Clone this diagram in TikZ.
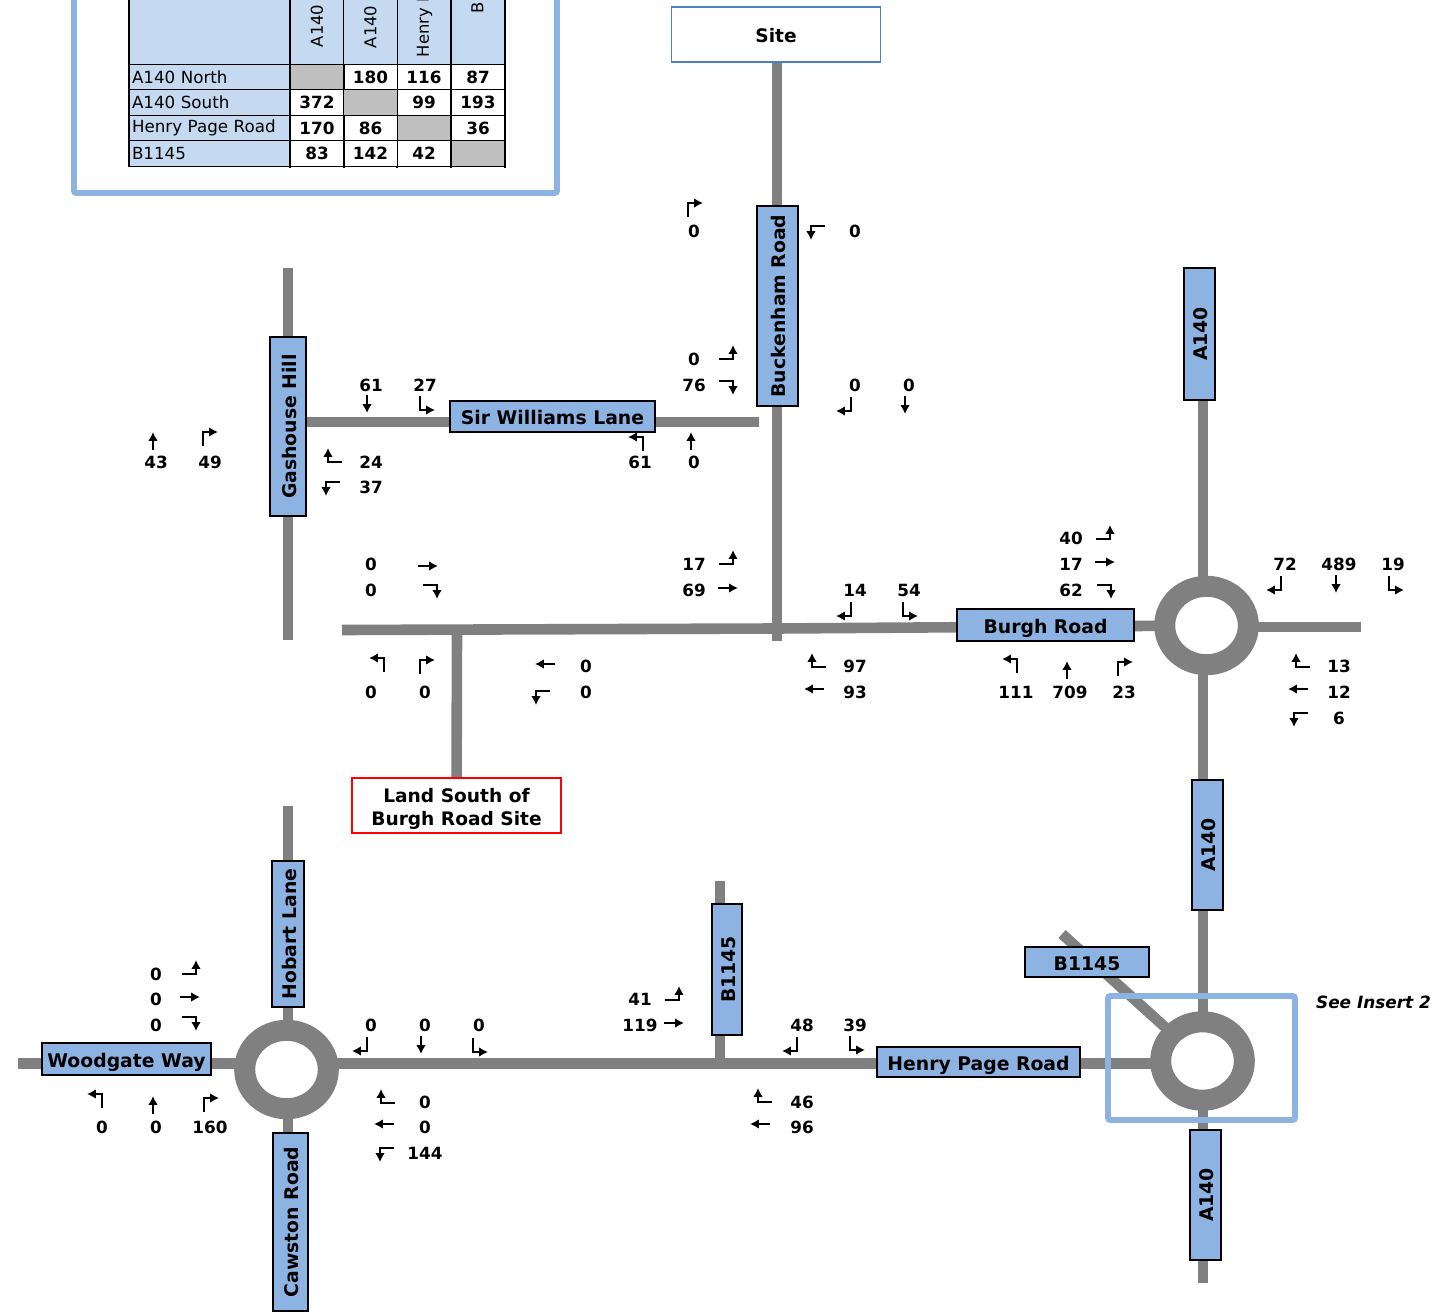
\documentclass[tikz,border=0pt]{standalone}
\usepackage{fontspec}
\setmainfont{DejaVu Sans}
\usepackage{xcolor}
\usetikzlibrary{arrows.meta,backgrounds,shapes.geometric}
\definecolor{tablight}{HTML}{C5D9F1}
\definecolor{roadblue}{HTML}{8DB3E2}
\definecolor{roadgray}{HTML}{808080}
\definecolor{cellgray}{HTML}{BFBFBF}
\definecolor{siteblue}{HTML}{4F81BD}
\tikzset{
  road/.style={draw=roadgray,line width=5.3pt},
  rbt/.style={ellipse,draw=roadgray,fill=white,line width=10.5pt,minimum width=41.8pt,minimum height=39.2pt,inner sep=0pt,outer sep=0pt},
  hlabel/.style 2 args={draw=black,fill=roadblue,line width=0.75pt,font=\bfseries\fontsize{9.4}{10}\selectfont,text height=8pt,text depth=0pt,inner sep=0pt,outer sep=0pt,minimum width=#1*0.5pt,minimum height=#2*0.5pt},
  vlabel/.style 2 args={hlabel={#1}{#2},rotate=90},
  sitebox/.style={draw=#1,fill=white,line width=0.7pt,align=center,font=\bfseries\fontsize{9.3}{11.5}\selectfont,inner sep=0pt,outer sep=0pt,minimum width=104.5pt,minimum height=27.5pt},
  count/.style={font=\bfseries\fontsize{8.4}{10}\selectfont,inner sep=0pt},
  frame/.style={draw=roadblue,line width=2.8pt,rounded corners=1pt},
  arr/.style={line width=0.95pt,-{Latex[length=4.4pt,width=4.8pt]}},
  tline/.style={draw=black,line width=0.7pt},
  cell/.style={draw=black,line width=0.7pt,inner sep=0pt,outer sep=0pt,minimum width=26.8pt,minimum height=12.75pt,font=\bfseries\fontsize{8.4}{10}\selectfont},
  grey/.style={cell,fill=cellgray},
  rowname/.style={cell,fill=tablight,minimum width=80.5pt,text width=77.5pt,align=left,font=\fontsize{8.35}{10}\selectfont},
  colname/.style={font=\fontsize{8.2}{10}\selectfont,inner sep=0pt,rotate=90,anchor=west},
  pics/ur/.style={code={\draw[arr] (-7,8) -- (-7,-6) -- (8,-6);}},
  pics/ul/.style={code={\draw[arr] (7,8) -- (7,-6) -- (-8,-6);}},
  pics/dr/.style={code={\draw[arr] (-7,-8) -- (-7,6) -- (8,6);}},
  pics/dl/.style={code={\draw[arr] (7,-8) -- (7,6) -- (-8,6);}},
  pics/ru/.style={code={\draw[arr] (-8,6) -- (6,6) -- (6,-8);}},
  pics/rd/.style={code={\draw[arr] (-8,-6) -- (6,-6) -- (6,8);}},
  pics/lu/.style={code={\draw[arr] (8,6) -- (-6,6) -- (-6,-8);}},
  pics/ld/.style={code={\draw[arr] (8,-6) -- (-6,-6) -- (-6,8);}},
  pics/uu/.style={code={\draw[arr] (0,9) -- (0,-9);}},
  pics/dd/.style={code={\draw[arr] (0,-9) -- (0,9);}},
  pics/rr/.style={code={\draw[arr] (-10,0) -- (10,0);}},
  pics/ll/.style={code={\draw[arr] (10,0) -- (-10,0);}},
}
\begin{document}
\begin{tikzpicture}[x=0.5pt,y=-0.5pt]
  \useasboundingbox (0,0) rectangle (1455,1315);
  % free ends of the roads
  \coordinate (gashN) at (288,268);
  \coordinate (gashS) at (288,640);
  \coordinate (swE) at (759,422);
  \coordinate (mainW) at (342,630);
  \coordinate (mainJ) at (777,628.5);
  \coordinate (buckS) at (777,641);
  \coordinate (landJ) at (457,630);
  \coordinate (burghE) at (1361,627);
  \coordinate (a140N) at (1203,280);
  \coordinate (a140S) at (1203,1283);
  \coordinate (b1145NW) at (1062,934);
  \coordinate (b1145N) at (720,881);
  \coordinate (b1145S) at (720,1064);
  \coordinate (hobartN) at (288,806);
  \coordinate (cawstonS) at (288,1200);
  \coordinate (woodW) at (18,1063.5);
  \coordinate (henryE) at (1175,1063.5);
  % junctions
  \node[rbt] (rbBurgh) at (1206.5,625.5) {};
  \node[rbt] (rbInsert) at (1202.5,1061) {};
  \node[rbt] (rbWood) at (286.5,1069.5) {};
  % road names
  \node[sitebox=siteblue] (site) at (776,34.5) {\rule{0pt}{8.2pt}Site};
  \node[sitebox=red] (land) at (456.5,805.5) {\rule{0pt}{10.2pt}Land South of\\Burgh Road Site};
  \node[vlabel={200}{41}] (buckenham) at (777.5,306) {Buckenham Road};
  \node[vlabel={179}{36}] (gashouse) at (288,426.5) {Gashouse Hill};
  \node[hlabel={205}{31}] (sirwilliams) at (552.5,416.5) {Sir Williams Lane};
  \node[vlabel={132}{31}] (a140top) at (1199.5,334) {A140};
  \node[hlabel={177}{32}] (burgh) at (1045.5,625) {Burgh Road};
  \node[vlabel={130}{31}] (a140mid) at (1207.5,845) {A140};
  \node[hlabel={124}{30}] (b1145diag) at (1087,962) {B1145};
  \node[vlabel={131}{30}] (b1145vert) at (727,969.5) {B1145};
  \node[hlabel={203}{30}] (henry) at (978.5,1062) {Henry Page Road};
  \node[vlabel={130}{31}] (a140low) at (1205.5,1195) {A140};
  \node[hlabel={169}{32}] (woodgate) at (126.5,1059) {Woodgate Way};
  \node[vlabel={146}{32}] (hobart) at (288,934) {Hobart Lane};
  \node[vlabel={178}{35}] (cawston) at (290.5,1222) {Cawston Road};
  % roads go under everything else
  \begin{pgfonlayer}{background}
    \draw[road] (gashN) -- (gashS);
    \draw[road] (gashouse |- swE) -- (swE);
    \draw[road] (site -| buckS) -- (buckS);
    \draw[road] (mainW) -- (mainJ) -- (rbBurgh);
    \draw[road] (land) -- (landJ);
    \draw[road] (rbBurgh |- burghE) -- (burghE);
    \draw[road] (a140N) -- (a140S);
    \draw[road] (b1145NW) -- (rbInsert);
    \draw[road] (b1145N) -- (b1145S);
    \draw[road] (woodW) -- (henryE);
    \draw[road] (hobartN) -- (cawstonS);
  \end{pgfonlayer}
  \draw[frame] (1108,996) rectangle (1295,1120);
  \node[font=\bfseries\itshape\fontsize{8.45}{10}\selectfont,inner sep=0pt] (insert) at (1373.5,1002) {See Insert 2};
  % matrix inset
  \draw[frame] (74,-20) rectangle (557,193);
  \node[rowname,minimum height=42pt] (hd0) at (209.5,22.5) {};
  \node[cell,fill=tablight,minimum height=42pt] (hd1) at (317,22.5) {};
  \node[cell,fill=tablight,minimum height=42pt] (hd2) at (370.5,22.5) {};
  \node[cell,fill=tablight,minimum height=42pt] (hd3) at (424,22.5) {};
  \node[cell,fill=tablight,minimum height=42pt] (hd4) at (478,22.5) {};
  \node[colname] (hdA) at (317,47.5) {A140};
  \node[colname] (hdB) at (370.5,48.5) {A140};
  \node[colname] (hdC) at (424.5,57.5) {Henry P};
  \node[colname] (hdD) at (477.5,13.5) {B};
  \node[rowname] (rw1) at (209.5,77) {A140 North};
  \node[rowname] (rw2) at (209.5,102.5) {A140 South};
  \node[rowname] (rw3) at (209.5,128) {Henry Page Road};
  \node[rowname] (rw4) at (209.5,153.5) {B1145};
  \node[grey] (c11) at (317,77) {};
  \node[cell] (c12) at (370.5,77) {180};
  \node[cell] (c13) at (424,77) {116};
  \node[cell] (c14) at (478,77) {87};
  \node[cell] (c21) at (317,102.5) {372};
  \node[grey] (c22) at (370.5,102.5) {};
  \node[cell] (c23) at (424,102.5) {99};
  \node[cell] (c24) at (478,102.5) {193};
  \node[cell] (c31) at (317,128) {170};
  \node[cell] (c32) at (370.5,128) {86};
  \node[grey] (c33) at (424,128) {};
  \node[cell] (c34) at (478,128) {36};
  \node[cell] (c41) at (317,153.5) {83};
  \node[cell] (c42) at (370.5,153.5) {142};
  \node[cell] (c43) at (424,153.5) {42};
  \node[grey] (c44) at (478,153.5) {};
  \foreach \x in {290,344,397,451,505}
    \draw[tline] (\x,166) -- (\x,168);
  % Buckenham Road / Sir Williams Lane
  \pic at (695,209) {ur}; \node[count] (t01) at (694,231) {0};
  \pic at (817,232) {ld}; \node[count] (t02) at (855,231) {0};
  \pic at (727,353) {ru}; \node[count] (t03) at (694,359) {0};
  \pic at (727,387) {rd}; \node[count] (t04) at (694,385) {76};
  \pic at (844,405) {dl}; \node[count] (t05) at (855,385) {0};
  \pic at (905,405) {dd}; \node[count] (t06) at (909,385) {0};
  \pic at (636,443) {ul}; \node[count] (t07) at (640,462) {61};
  \pic at (691,441) {uu}; \node[count] (t08) at (694,462) {0};
  \pic at (367,404) {dd}; \node[count] (t09) at (371,385) {61};
  \pic at (427,404) {dr}; \node[count] (t10) at (425,385) {27};
  \pic at (153,441) {uu}; \node[count] (t11) at (156,462) {43};
  \pic at (210,438) {ur}; \node[count] (t12) at (210,462) {49};
  \pic at (334,456) {lu}; \node[count] (t13) at (371,462) {24};
  \pic at (332,488) {ld}; \node[count] (t14) at (371,487) {37};
  % Burgh Road
  \pic at (428,566) {rr}; \node[count] (t15) at (371,564) {0};
  \pic at (431,591) {rd}; \node[count] (t16) at (371,590) {0};
  \pic at (727,558) {ru}; \node[count] (t17) at (694,564) {17};
  \pic at (728,588) {rr}; \node[count] (t18) at (694,590) {69};
  \pic at (844,610) {dl}; \node[count] (t19) at (855,590) {14};
  \pic at (910,610) {dr}; \node[count] (t20) at (909,590) {54};
  \pic at (1104,533) {ru}; \node[count] (t21) at (1071,538) {40};
  \pic at (1105,562) {rr}; \node[count] (t22) at (1071,564) {17};
  \pic at (1105,591) {rd}; \node[count] (t23) at (1071,590) {62};
  \pic at (1274,584) {dl}; \node[count] (t24) at (1285,564) {72};
  \pic at (1336,584) {dd}; \node[count] (t25) at (1339,564) {489};
  \pic at (1396,584) {dr}; \node[count] (t26) at (1393,564) {19};
  \pic at (1010,665) {ul}; \node[count] (t27) at (1016,692) {111};
  \pic at (1067,670) {uu}; \node[count] (t28) at (1070,692) {709};
  \pic at (1125,668) {ur}; \node[count] (t29) at (1124,692) {23};
  \pic at (1302,661) {lu}; \node[count] (t30) at (1339,666) {13};
  \pic at (1298,689) {ll}; \node[count] (t31) at (1339,692) {12};
  \pic at (1300,719) {ld}; \node[count] (t32) at (1339,718) {6};
  \pic at (377,664) {ul}; \node[count] (t33) at (371,692) {0};
  \pic at (427,666) {ur}; \node[count] (t34) at (425,692) {0};
  \pic at (545,664) {ll}; \node[count] (t35) at (586,666) {0};
  \pic at (542,697) {ld}; \node[count] (t36) at (586,692) {0};
  \pic at (818,661) {lu}; \node[count] (t37) at (855,666) {97};
  \pic at (814,689) {ll}; \node[count] (t38) at (855,692) {93};
  % Woodgate Way / Henry Page Road
  \pic at (190,968) {ru}; \node[count] (t39) at (156,974) {0};
  \pic at (190,997) {rr}; \node[count] (t40) at (156,999) {0};
  \pic at (190,1023) {rd}; \node[count] (t41) at (156,1025) {0};
  \pic at (95,1100) {ul}; \node[count] (t42) at (102,1127) {0};
  \pic at (153,1105) {uu}; \node[count] (t43) at (156,1127) {0};
  \pic at (211,1104) {ur}; \node[count] (t44) at (210,1127) {160};
  \pic at (360,1045) {dl}; \node[count] (t45) at (371,1025) {0};
  \pic at (421,1045) {dd}; \node[count] (t46) at (425,1025) {0};
  \pic at (480,1046) {dr}; \node[count] (t47) at (479,1025) {0};
  \pic at (387,1097) {lu}; \node[count] (t48) at (425,1102) {0};
  \pic at (384,1124) {ll}; \node[count] (t49) at (425,1127) {0};
  \pic at (386,1154) {ld}; \node[count] (t50) at (425,1153) {144};
  \pic at (673,994) {ru}; \node[count] (t51) at (640,999) {41};
  \pic at (674,1023) {rr}; \node[count] (t52) at (640,1025) {119};
  \pic at (790,1045) {dl}; \node[count] (t53) at (802,1025) {48};
  \pic at (857,1044) {dr}; \node[count] (t54) at (855,1025) {39};
  \pic at (764,1096) {lu}; \node[count] (t55) at (802,1102) {46};
  \pic at (760,1124) {ll}; \node[count] (t56) at (802,1127) {96};
\end{tikzpicture}
\end{document}
